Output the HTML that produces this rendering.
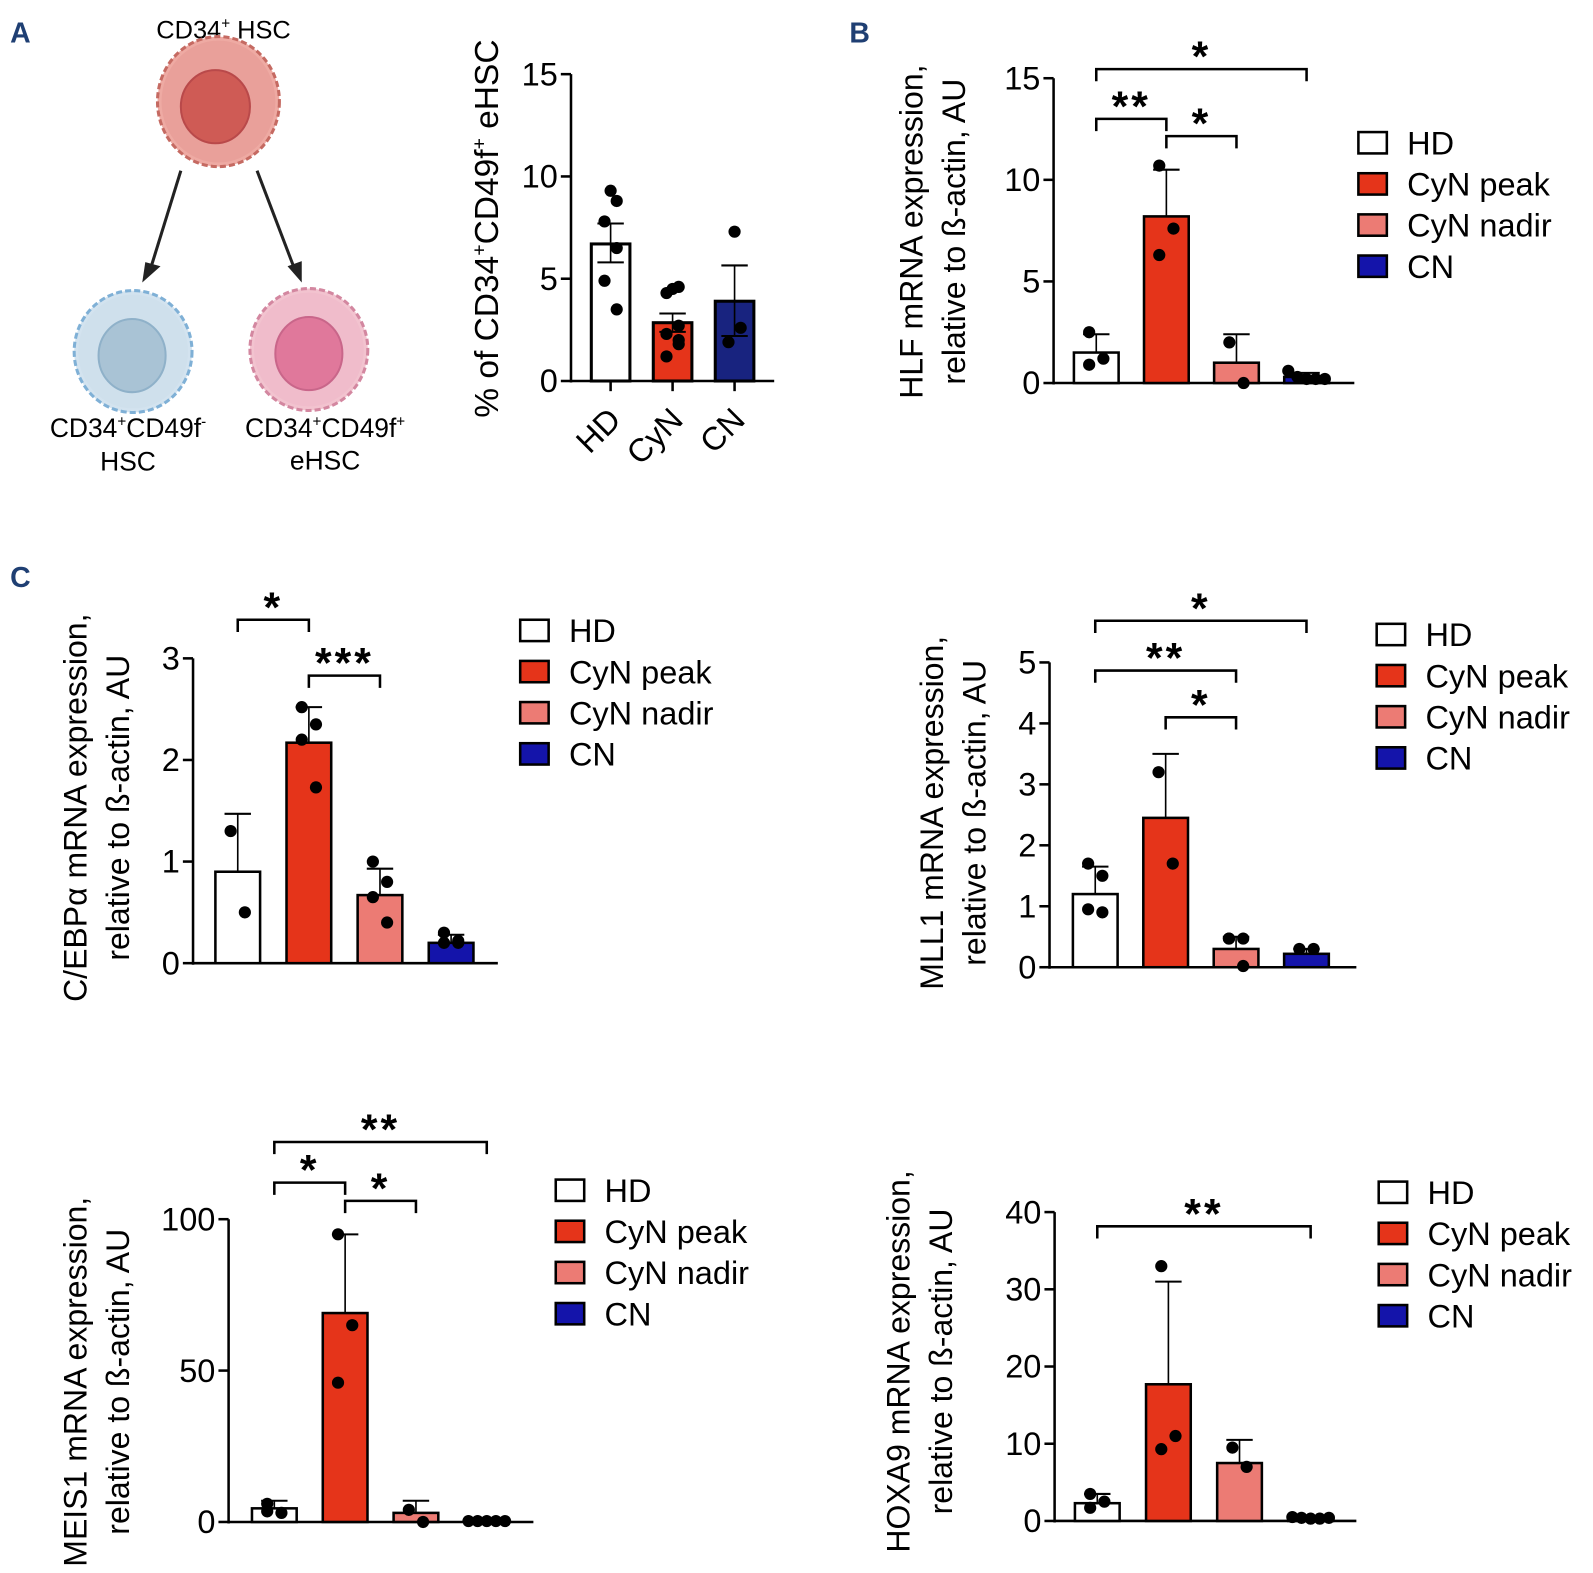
<!DOCTYPE html>
<html><head><meta charset="utf-8"><style>
html,body{margin:0;padding:0;background:#fff;}
svg{display:block;font-family:"Liberation Sans",sans-serif;}
</style></head><body>
<svg width="1593" height="1573" viewBox="0 0 1593 1573" xmlns="http://www.w3.org/2000/svg">
<g id="fig" transform="scale(1.016)">
<text x="10" y="42" font-size="28" font-weight="bold" fill="#1f3f73">A</text>
<text x="836" y="42" font-size="28" font-weight="bold" fill="#1f3f73">B</text>
<text x="10" y="578" font-size="28" font-weight="bold" fill="#1f3f73">C</text>
<g>
 <text x="220" y="38" font-size="25" text-anchor="middle">CD34<tspan font-size="15" dy="-10">+</tspan><tspan dy="10"> HSC</tspan></text>
 <g>
  <ellipse cx="215" cy="100" rx="60" ry="64" fill="#eeaaa3" stroke="#c56a62" stroke-width="3" stroke-dasharray="6 3"/>
  <ellipse cx="215" cy="100" rx="56" ry="60" fill="#e9a09a"/>
  <ellipse cx="212" cy="105" rx="34" ry="36" fill="#cf5b55" stroke="#b9494a" stroke-width="2"/>
 </g>
 <line x1="178" y1="168" x2="148" y2="265" stroke="#222" stroke-width="3"/>
 <polygon points="140,278 143,258 158,262" fill="#222"/>
 <line x1="253" y1="168" x2="290" y2="265" stroke="#222" stroke-width="3"/>
 <polygon points="297,278 283,262 297,257" fill="#222"/>
 <g>
  <ellipse cx="131" cy="346" rx="58" ry="60" fill="#d3e3ef" stroke="#7fb0d6" stroke-width="3" stroke-dasharray="6 3"/>
  <ellipse cx="131" cy="346" rx="54" ry="56" fill="#cfe0ec"/>
  <ellipse cx="130" cy="350" rx="33" ry="36" fill="#a9c3d5" stroke="#8fb1c9" stroke-width="2"/>
 </g>
 <g>
  <ellipse cx="304" cy="344" rx="58" ry="60" fill="#f2c3cf" stroke="#d387a0" stroke-width="3" stroke-dasharray="6 3"/>
  <ellipse cx="304" cy="344" rx="54" ry="56" fill="#f0bccb"/>
  <ellipse cx="304" cy="348" rx="33" ry="36" fill="#e0789b" stroke="#c9668a" stroke-width="2"/>
 </g>
 <text x="126" y="430" font-size="26" text-anchor="middle">CD34<tspan font-size="15" dy="-10">+</tspan><tspan dy="10">CD49f</tspan><tspan font-size="15" dy="-10">-</tspan></text>
 <text x="126" y="463" font-size="26" text-anchor="middle">HSC</text>
 <text x="320" y="430" font-size="26" text-anchor="middle">CD34<tspan font-size="15" dy="-10">+</tspan><tspan dy="10">CD49f</tspan><tspan font-size="15" dy="-10">+</tspan></text>
 <text x="320" y="462" font-size="26" text-anchor="middle">eHSC</text>
</g>
</g>
</svg>
<script>
// ---- Data ----
const aCats = ["HD","CyN","CN"];
const aMeans = [6.7, 2.85, 3.9];
const aErrUp = [7.7, 3.3, 5.65];
const aErrDn = [5.8, 2.4, 2.2];
const aPoints = [[9.3,8.8,7.8,6.5,4.9,3.5],[4.5,4.6,4.3,2.7,2.3,1.8,1.2,2.0],[7.3,2.6,1.9]];
const aTicks = [0,5,10,15];

const groups = ["HD","CyN peak","CyN nadir","CN"];

const hlfMeans = [1.5, 8.2, 1.0, 0.3];
const hlfErr = [2.4, 10.5, 2.4, 0.5];
const hlfPoints = [[2.5,1.2,0.9],[10.7,7.6,6.3],[2.0,0],[0.6,0.3,0.2,0.2,0.2]];
const hlfTicks = [0,5,10,15];

const cebMeans = [0.9, 2.17, 0.67, 0.2];
const cebErr = [1.47, 2.52, 0.93, 0.28];
const cebPoints = [[1.3,0.5],[2.52,2.35,2.2,1.73],[1.0,0.8,0.65,0.4],[0.3,0.22,0.2,0.2]];
const cebTicks = [0,1,2,3];

const mllMeans = [1.2, 2.45, 0.3, 0.22];
const mllErr = [1.65, 3.5, 0.5, 0.3];
const mllPoints = [[1.7,1.5,0.95,0.9],[3.2,1.7],[0.47,0.47,0.47,0.02],[0.3,0.3]];
const mllTicks = [0,1,2,3,4,5];

const meisMeans = [4.5, 69, 3, 0.5];
const meisErr = [7, 95, 7, 0.8];
const meisPoints = [[6,3,3.5],[95,65,46],[4,0],[0.3,0.3,0.3,0.3,0.3]];
const meisTicks = [0,50,100];

const hoxMeans = [2.3, 17.7, 7.5, 0.4];
const hoxErr = [3.5, 31, 10.5, 0.6];
const hoxPoints = [[3.5,2.5,1.7],[33,11,9.3],[9.5,7],[0.5,0.4,0.3,0.3,0.4]];
const hoxTicks = [0,10,20,30,40];

const colors = ["#ffffff","#e5341a","#ec7b74","#1414aa"];

const NS = "http://www.w3.org/2000/svg";
const svg = document.getElementById("fig");
function mk(tag, attrs, parent){const e=document.createElementNS(NS,tag);for(const k in attrs)e.setAttribute(k,attrs[k]);(parent||svg).appendChild(e);return e;}

function chart(o){
  const g = mk("g",{});
  
  
  const max = o.ticks[o.ticks.length-1];
  const y = v => o.y0 - (v/max)*(o.y0-o.yTop);
  const x = i => o.xStart + i*o.step;
  const ax = mk("line",{x1:o.ax,y1:o.yTop,x2:o.ax,y2:o.y0+1.5,stroke:"#000","stroke-width":2.5},g);
  
  
  const bx = mk("line",{x1:o.ax-1,y1:o.y0,x2:o.axEnd,y2:o.y0,stroke:"#000","stroke-width":2.5},g);
  
  
  o.ticks.forEach(t=>{
    mk("line",{x1:o.ax-10,y1:y(t),x2:o.ax,y2:y(t),stroke:"#000","stroke-width":2.5},g);
    const tl = mk("text",{x:o.ax-13,y:y(t)+11,"font-size":32,"text-anchor":"end"},g);
    tl.textContent = t;
    
    
  });
  o.means.forEach((m,i)=>{
    const cx = x(i);
    const b = mk("rect",{x:cx-o.bw/2,y:y(m),width:o.bw,height:o.y0-y(m),fill:o.colors[i],stroke:"#000","stroke-width":o.bs||2.5},g);
    
    
    mk("line",{x1:cx,y1:y(o.errUp[i]),x2:cx,y2:y(m),stroke:"#000","stroke-width":1.6},g);
    mk("line",{x1:cx-13,y1:y(o.errUp[i]),x2:cx+13,y2:y(o.errUp[i]),stroke:"#000","stroke-width":2},g);
    if(o.errDn){
      mk("line",{x1:cx,y1:y(m),x2:cx,y2:y(o.errDn[i]),stroke:"#000","stroke-width":1.6},g);
      mk("line",{x1:cx-13,y1:y(o.errDn[i]),x2:cx+13,y2:y(o.errDn[i]),stroke:"#000","stroke-width":2},g);
    }
    const pts = o.points[i];
    pts.forEach((p,j)=>{
      let off;
      if(o.colJitter) off = pts.length>1 ? ((j%2)?6:-6)*(j===0?0:1) : 0;
      else off = pts.length>4 ? (j-(pts.length-1)/2)*9 : ((j%2)? 7 : -7)*(pts.length>1?1:0);
      const d = mk("circle",{cx:cx+off,cy:y(p),r:6,fill:"#000"},g);
      
      
    });
    if(o.rotLabels){
      const l = mk("text",{x:cx+12,y:o.y0+40,"font-size":32,"text-anchor":"end",transform:`rotate(-45 ${cx+12} ${o.y0+40})`},g);
      l.textContent = o.cats[i];
      
      
      mk("line",{x1:cx,y1:o.y0,x2:cx,y2:o.y0+10,stroke:"#000","stroke-width":2.5},g);
    }
  });
  (o.sig||[]).forEach(s=>{
    const x1=x(s[0]), x2=x(s[1]), by=s[2];
    const p = mk("path",{d:`M${x1} ${by+12}V${by}H${x2}V${by+12}`,fill:"none",stroke:"#000","stroke-width":2.5},g);
    
    
    const st = mk("text",{x:(x1+x2)/2,y:by+2,"font-size":42,"font-weight":"bold","text-anchor":"middle","letter-spacing":"3"},g);
    st.textContent = s[3];
    
    
  });
  const tg = mk("text",{"font-size":o.tfs||31.5,"text-anchor":"middle",transform:`translate(${o.tx},${o.ty}) rotate(-90)`},g);
  
  
  o.title.forEach((line,k)=>{
    const ts = mk("tspan",{x:0,y:k*42},tg);
    ts.innerHTML = line;
  });
  if(o.legend){
    groups.forEach((gname,i)=>{
      const ly = o.legend[1] + i*40.5;
      const lg = mk("g",{},g);
      
      
      mk("rect",{x:o.legend[0],y:ly-10,width:28,height:21,fill:colors[i],stroke:"#000","stroke-width":2.5},lg);
      const t = mk("text",{x:o.legend[0]+48,y:ly+12,"font-size":32},lg);
      t.textContent = gname;
    });
  }
}

chart({name:"chart-a-ehsc",cats:aCats,means:aMeans,errUp:aErrUp,errDn:aErrDn,points:aPoints,ticks:aTicks,
  colors:["#ffffff","#e5341a","#18237f"],ax:562,axEnd:762,y0:375,yTop:73,xStart:601,step:61,bw:38,bs:3,rotLabels:true,colJitter:true,
  title:["% of CD34<tspan font-size='19' dy='-12'>+</tspan><tspan dy='12'>CD49f</tspan><tspan font-size='19' dy='-12'>+</tspan><tspan dy='12'> eHSC</tspan>"],tx:490,ty:225,tfs:33});

chart({name:"chart-b-hlf",cats:groups,means:hlfMeans,errUp:hlfErr,points:hlfPoints,ticks:hlfTicks,colors:colors,
  ax:1037,axEnd:1333,y0:377,yTop:77,xStart:1079,step:69,bw:44,
  sig:[[0,3,68,"*"],[0,1,117,"**"],[1,2,134,"*"]],title:["HLF mRNA expression,","relative to ß-actin, AU"],tx:908,ty:228,legend:[1337,140]});

chart({name:"chart-c-cebpa",cats:groups,means:cebMeans,errUp:cebErr,points:cebPoints,ticks:cebTicks,colors:colors,
  ax:190,axEnd:490,y0:948,yTop:648,xStart:234,step:70,bw:44,
  sig:[[0,1,610,"*"],[1,2,665,"***"]],title:["C/EBPα  mRNA expression,","relative to ß-actin, AU"],tx:85,ty:795,legend:[512,620]});

chart({name:"chart-c-mll1",cats:groups,means:mllMeans,errUp:mllErr,points:mllPoints,ticks:mllTicks,colors:colors,
  ax:1033,axEnd:1335,y0:952,yTop:652,xStart:1078,step:69.3,bw:44,
  sig:[[0,3,611,"*"],[0,2,660,"**"],[1,2,706,"*"]],title:["MLL1 mRNA expression,","relative to ß-actin, AU"],tx:928,ty:800,legend:[1355,624]});

chart({name:"chart-c-meis1",cats:groups,means:meisMeans,errUp:meisErr,points:meisPoints,ticks:meisTicks,colors:colors,
  ax:225,axEnd:525,y0:1498,yTop:1200,xStart:270,step:69.7,bw:44,
  sig:[[0,3,1124,"**"],[0,1,1164,"*"],[1,2,1182,"*"]],title:["MEIS1 mRNA expression,","relative to ß-actin, AU"],tx:85,ty:1360,legend:[547,1171]});

chart({name:"chart-c-hoxa9",cats:groups,means:hoxMeans,errUp:hoxErr,points:hoxPoints,ticks:hoxTicks,colors:colors,
  ax:1038,axEnd:1335,y0:1497,yTop:1193,xStart:1080,step:70,bw:44,
  sig:[[0,3,1207,"**"]],title:["HOXA9 mRNA expression,","relative to ß-actin, AU"],tx:895,ty:1340,legend:[1357,1173]});
</script>
</body></html>
